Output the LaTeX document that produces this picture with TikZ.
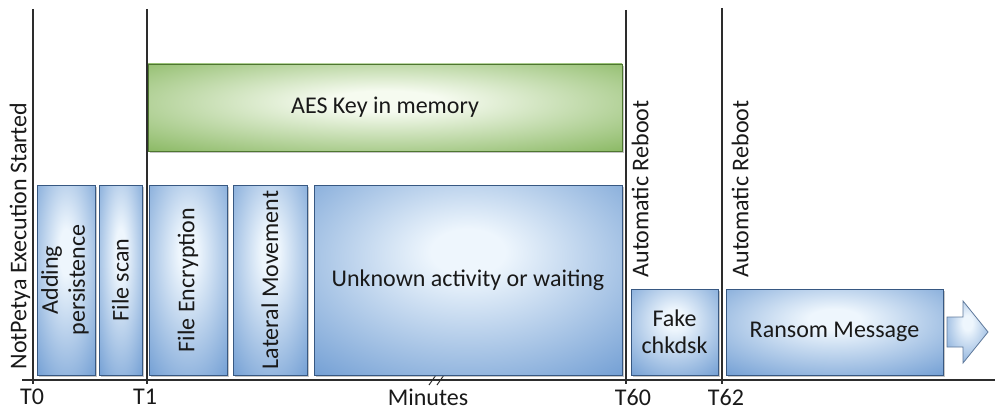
\documentclass[tikz,border=0pt]{standalone}
\usepackage{fontspec}
\setmainfont{Carlito}
\usetikzlibrary{shadows}

\definecolor{blueC}{RGB}{238,246,253}
\definecolor{blueE}{RGB}{88,140,203}
\definecolor{greenC}{RGB}{246,251,240}
\definecolor{greenE}{RGB}{108,166,60}
\definecolor{blueLine}{RGB}{55,88,130}
\definecolor{greenLine}{RGB}{78,118,48}
\definecolor{axisgray}{RGB}{45,45,45}
\definecolor{txt}{RGB}{25,25,25}

\pgfdeclareradialshading{blueshade}{\pgfpoint{0bp}{8bp}}{color(0bp)=(blueC); color(6bp)=(blueC); color(46bp)=(blueE); color(80bp)=(blueE)}
\pgfdeclareradialshading{greenshade}{\pgfpoint{0bp}{4bp}}{color(0bp)=(greenC); color(6bp)=(greenC); color(46bp)=(greenE); color(80bp)=(greenE)}

\tikzset{
  bbox/.style={draw=blueLine, line width=0.8pt, shading=blueshade, inner sep=0pt,
    drop shadow={opacity=0.45, shadow xshift=2pt, shadow yshift=-2pt},
    text=txt, font=\fontsize{24}{27}\selectfont},
  gbox/.style={draw=greenLine, line width=0.8pt, shading=greenshade, inner sep=0pt,
    drop shadow={opacity=0.45, shadow xshift=2pt, shadow yshift=-2pt},
    text=txt, font=\fontsize{24}{27}\selectfont},
  tline/.style={draw=axisgray, line width=1.3pt},
  lbl/.style={text=txt, font=\fontsize{24}{27}\selectfont, inner sep=0pt},
}

\begin{document}
\begin{tikzpicture}[x=1pt,y=-1pt]
\useasboundingbox (0,0) rectangle (995,412);

% time lines
\coordinate (t0a) at (33,9);   \coordinate (t0b) at (33,384);
\coordinate (t1a) at (147,9);  \coordinate (t1b) at (147,384);
\coordinate (t60a) at (626,10); \coordinate (t60b) at (626,384);
\coordinate (t62a) at (722,8); \coordinate (t62b) at (722,384);
\coordinate (axa) at (22,380); \coordinate (axb) at (995,380);
\draw[tline] (t0a) -- (t0b);
\draw[tline] (t1a) -- (t1b);
\draw[tline] (t60a) -- (t60b);
\draw[tline] (t62a) -- (t62b);
\draw[tline] (axa) -- (axb);

% break mark
\coordinate (b1a) at (429,385); \coordinate (b1b) at (436,375);
\coordinate (b2a) at (437,385); \coordinate (b2b) at (444,375);
\draw[axisgray, line width=1pt] (b1a) -- (b1b);
\draw[axisgray, line width=1pt] (b2a) -- (b2b);

% boxes
\node[gbox, minimum width=474pt, minimum height=87pt] (aes) at (385,107.5) {AES Key in memory};

\node[bbox, minimum width=58pt, minimum height=190pt] (persist) at (66,280)
  {\rotatebox{90}{\begin{tabular}{@{}c@{}}Adding\\persistence\end{tabular}}};
\node[bbox, minimum width=43pt, minimum height=190pt] (scan) at (120.5,280)
  {\rotatebox{90}{File scan}};
\node[bbox, minimum width=78pt, minimum height=190pt] (enc) at (188,280)
  {\rotatebox{90}{File Encryption}};
\node[bbox, minimum width=74pt, minimum height=190pt] (lat) at (270,280)
  {\rotatebox{90}{Lateral Movement}};
\node[bbox, minimum width=308pt, minimum height=190pt] (unk) at (468,280)
  {Unknown activity or waiting};
\node[bbox, minimum width=87pt, minimum height=86pt, align=center] (chk) at (674.5,332)
  {Fake\\chkdsk};
\node[bbox, minimum width=217pt, minimum height=86pt] (ransom) at (834.5,332)
  {Ransom Message};

% arrow
\coordinate (a1) at (947,317); \coordinate (a2) at (963,317); \coordinate (a3) at (963,301);
\coordinate (a4) at (988,332); \coordinate (a5) at (963,363); \coordinate (a6) at (963,347);
\coordinate (a7) at (947,347);
\path[draw=blueLine!80, line width=0.8pt, shading=blueshade] (a1) -- (a2) -- (a3) -- (a4) -- (a5) -- (a6) -- (a7) -- cycle;

% rotated labels
\node[lbl, rotate=90] (start) at (20,236) {NotPetya Execution Started};
\node[lbl, rotate=90] (rb1) at (640,189) {Automatic Reboot};
\node[lbl, rotate=90] (rb2) at (740,189) {Automatic Reboot};

% axis labels
\node[lbl] (T0) at (32,397) {T0};
\node[lbl] (T1) at (145,397) {T1};
\node[lbl] (T60) at (633,397) {T60};
\node[lbl] (T62) at (726,397) {T62};
\node[lbl] (min) at (428,397) {Minutes};
\end{tikzpicture}
\end{document}
